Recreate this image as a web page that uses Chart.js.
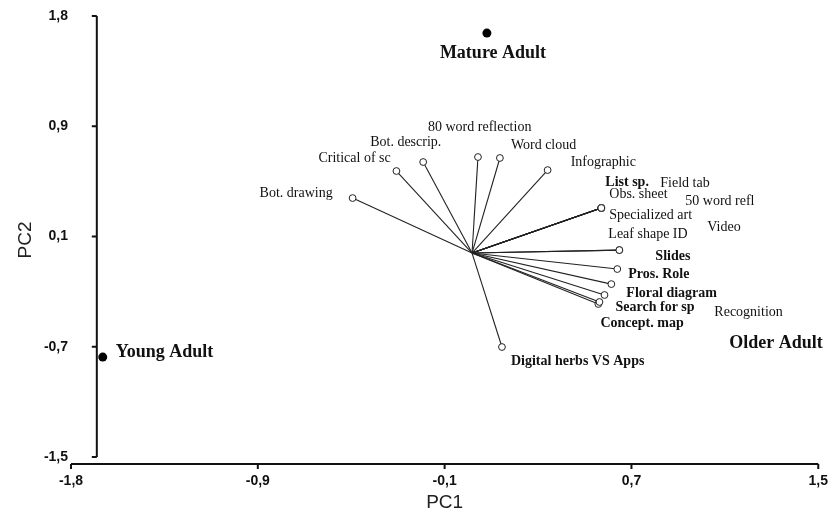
<!DOCTYPE html>
<html>
<head>
<meta charset="utf-8">
<script src="https://cdn.jsdelivr.net/npm/chart.js@4.4.0/dist/chart.umd.min.js"></script>
<style>
html,body{margin:0;padding:0;background:#fff;}
#wrap{width:837px;height:516px;position:relative;}
</style>
</head>
<body>
<div id="wrap"><canvas id="c"></canvas></div>
<script>
// ---- data ----
const variables = ['Bot. drawing','Critical of sc','Bot. descrip.','80 word reflection','Word cloud','Infographic',
  'List sp.','Field tab','Obs. sheet','50 word refl','Specialized art','Video','Leaf shape ID','Slides',
  'Pros. Role','Floral diagram','Search for sp','Concept. map','Recognition','Digital herbs VS Apps'];
const loadingPC1 = [-0.523,-0.331,-0.214,0.026,0.122,0.331,0.566,0.566,0.566,0.566,0.566,0.566,0.645,0.645,0.636,0.610,0.580,0.558,0.553,0.131];
const loadingPC2 = [0.409,0.610,0.677,0.714,0.707,0.617,0.335,0.335,0.335,0.335,0.335,0.335,0.022,0.022,-0.119,-0.231,-0.312,-0.364,-0.379,-0.699];
const groups = ['Mature Adult','Young Adult','Older Adult'];
const scorePC1 = [0.065,-1.617,1.560];
const scorePC2 = [1.636,-0.774,-0.878];
const xTickValues = [-1.756,-0.938,-0.120,0.698,1.516];
const xTickLabels = ['-1,8','-0,9','-0,1','0,7','1,5'];
const yTickValues = [1.763,0.943,0.123,-0.697,-1.517];
const yTickLabels = ['1,8','0,9','0,1','-0,7','-1,5'];
const yScaleBottom = -1.569;   // value where the PC1 axis line sits
const yAxisCrossX = -1.643;    // PC1 value where the PC2 axis line sits

// ---- label layout / styles ----
const varLabelOffset = [[-93,-5],[-78,-13],[-53,-20],[-50,-30],[11,-13],[23,-8],[4,-26],[59,-25],[8,-14],[84,-7],
  [8,7],[106,19],[-11,-16],[36,6],[11,5],[15,9],[11,12],[1,21],[116,8],[9,14]];
const varLabelBold = [false,false,false,false,false,false,true,false,false,false,false,false,false,true,true,true,true,true,false,true];
const groupLabelOffset = [[-47,20],[13,-5],[-99,-28]];
const SERIF = "'Liberation Serif','Times New Roman',serif";
const SANS = "'Liberation Sans',Arial,sans-serif";
const LINE = '#222';

const datasets = variables.map((name,i)=>({
  label:name,
  data:[{x:0,y:0},{x:loadingPC1[i],y:loadingPC2[i]}],
  showLine:true, borderColor:LINE, borderWidth:1.1,
  pointRadius:[0,3.4], pointBorderWidth:1, pointBorderColor:LINE, pointBackgroundColor:'#fff',
  clip:false
}));
datasets.push({
  label:'Groups',
  data:groups.map((g,i)=>({x:scorePC1[i],y:scorePC2[i]})),
  showLine:false, pointRadius:4.5, pointBackgroundColor:'#000', pointBorderColor:'#000', pointBorderWidth:0,
  clip:false
});

const axesPlugin = {
  id:'offsetAxes',
  beforeDatasetsDraw(chart){
    const {ctx, scales:{x,y}, chartArea} = chart;
    ctx.save();
    ctx.strokeStyle='#111'; ctx.lineWidth=2; ctx.lineCap='butt';
    const yb = chartArea.bottom;
    const x0 = x.getPixelForValue(xTickValues[0]);
    const x1 = x.getPixelForValue(xTickValues[xTickValues.length-1]);
    ctx.beginPath();
    ctx.moveTo(x0,yb); ctx.lineTo(x1,yb);
    xTickValues.forEach(v=>{const p=x.getPixelForValue(v); ctx.moveTo(p,yb); ctx.lineTo(p,yb+5);});
    const ax = x.getPixelForValue(yAxisCrossX);
    const yt = y.getPixelForValue(yTickValues[0]);
    const ybt = y.getPixelForValue(yTickValues[yTickValues.length-1]);
    ctx.moveTo(ax,yt); ctx.lineTo(ax,ybt);
    yTickValues.forEach(v=>{const p=y.getPixelForValue(v); ctx.moveTo(ax,p); ctx.lineTo(ax-5,p);});
    ctx.stroke();
    ctx.restore();
  }
};

const labelPlugin = {
  id:'biplotLabels',
  afterDatasetsDraw(chart){
    const {ctx, scales:{x,y}} = chart;
    ctx.save();
    ctx.textAlign='left'; ctx.textBaseline='middle'; ctx.fillStyle='#111';
    variables.forEach((name,i)=>{
      ctx.font = (varLabelBold[i]?'bold ':'') + '14px ' + SERIF;
      ctx.fillText(name, x.getPixelForValue(loadingPC1[i])+varLabelOffset[i][0], y.getPixelForValue(loadingPC2[i])+varLabelOffset[i][1]);
    });
    ctx.font = 'bold 18px ' + SERIF;
    groups.forEach((g,i)=>{
      ctx.fillText(g, x.getPixelForValue(scorePC1[i])+groupLabelOffset[i][0], y.getPixelForValue(scorePC2[i])+groupLabelOffset[i][1]);
    });
    ctx.restore();
  }
};

new Chart(document.getElementById('c'), {
  type:'scatter',
  data:{datasets},
  options:{
    responsive:true, maintainAspectRatio:false, animation:false, events:[],
    layout:{padding:{left:0,top:16,right:15,bottom:0}},
    plugins:{legend:{display:false}, tooltip:{enabled:false}},
    scales:{
      x:{
        type:'linear', min:xTickValues[0], max:xTickValues[xTickValues.length-1],
        grid:{display:false, drawTicks:false}, border:{display:false},
        afterBuildTicks:s=>{s.ticks = xTickValues.map(v=>({value:v}));},
        ticks:{callback:(v,i)=>xTickLabels[i], font:{family:SANS,size:14,weight:'bold'}, color:'#111', padding:9, maxRotation:0, autoSkip:false},
        title:{display:true, text:'PC1', font:{family:SANS,size:19}, color:'#222', padding:{top:0,bottom:2}},
        afterFit:s=>{s.height=52;}
      },
      y:{
        type:'linear', min:yScaleBottom, max:yTickValues[0],
        grid:{display:false, drawTicks:false}, border:{display:false},
        afterBuildTicks:s=>{s.ticks = yTickValues.map(v=>({value:v}));},
        ticks:{callback:(v,i)=>yTickLabels[i], font:{family:SANS,size:14,weight:'bold'}, color:'#111', padding:3, autoSkip:false},
        title:{display:true, text:'PC2', font:{family:SANS,size:19}, color:'#222', padding:{top:14,bottom:0}},
        afterFit:s=>{s.width=71;}
      }
    }
  },
  plugins:[axesPlugin, labelPlugin]
});
</script>
</body>
</html>
